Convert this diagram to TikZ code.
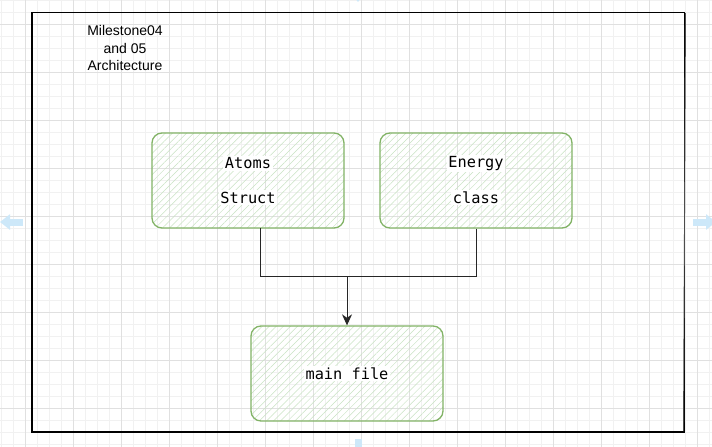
\documentclass[tikz,border=0pt]{standalone}
\usepackage{fontspec}
\setmainfont{Liberation Sans}
\setmonofont{DejaVu Sans Mono}
\usetikzlibrary{arrows.meta,patterns.meta,positioning}
\definecolor{boxline}{HTML}{82B366}
\definecolor{hatch}{HTML}{C9E3C3}
\definecolor{gridmin}{HTML}{F1F1F1}
\definecolor{gridmaj}{HTML}{E0E0E0}
\definecolor{hover}{HTML}{CDE8F9}
\tikzset{
  block/.style = {draw=boxline, line width=1.3pt, rounded corners=10pt,
    minimum width=192pt, minimum height=95pt,
    pattern={Lines[angle=45,distance=5pt,line width=0.5pt]}, pattern color=hatch},
  lbl/.style = {fill=white, inner sep=1.5pt, font=\ttfamily\fontsize{15.3}{18}\selectfont},
  wire/.style = {line width=1pt, draw=black!85},
  hoverarrow/.style = {line width=7pt, draw=hover, -{Triangle[length=10pt,width=15pt]}}
}
\begin{document}
\begin{tikzpicture}[x=1pt,y=-1pt]
\clip (0,0) rectangle (712,447);
\fill[white] (0,0) rectangle (712,447);
% background grid
\foreach \x in {1,13,...,712} \draw[gridmin,line width=0.6pt] (\x,0) -- (\x,447);
\foreach \y in {0,12,...,447} \draw[gridmin,line width=0.6pt] (0,\y) -- (712,\y);
\foreach \x in {25,73,...,712} \draw[gridmaj,line width=0.7pt] (\x,0) -- (\x,447);
\foreach \y in {24,72,...,447} \draw[gridmaj,line width=0.7pt] (0,\y) -- (712,\y);

% hover arrows
\draw[hoverarrow] (23,222) -- (0,222);
\draw[hoverarrow] (693,222) -- (716,222);
\draw[hoverarrow] (358,439) -- (358,462);
\draw[hoverarrow] (358,-20) -- (358,2);

% frame
\draw[line width=1.2pt] (32,12.5) rectangle (684.5,432);
\draw[line width=0.9pt,black!70] (685.5,13) -- (683.5,431);

\node[align=center, font=\fontsize{14}{17.5}\selectfont] (title) at (125,48)
  {Milestone04\\and 05\\Architecture};

\node [block] (atoms) at (248,180.5) {};
\node [block] (energy) at (476,180.5) {};
\node [block] (main) at (347,373.5) {};

\node [lbl] (atoms1) at ([yshift=17pt]atoms.center) {Atoms};
\node [lbl] (atoms2) at ([yshift=-17pt]atoms.center) {Struct};
\node [lbl] (energy1) at ([yshift=17pt]energy.center) {Energy};
\node [lbl] (energy2) at ([yshift=-17pt]energy.center) {class};
\node [lbl] (main1) at (main.center) {main file};

\coordinate (join) at (347,276);
\draw[wire] ([xshift=12pt]atoms.south) |- (join);
\draw[wire] (energy.south) |- (join);
\draw[wire,-{Stealth[length=11pt,width=10pt,inset=3.5pt]}] (join) -- (main.north);
\end{tikzpicture}
\end{document}
